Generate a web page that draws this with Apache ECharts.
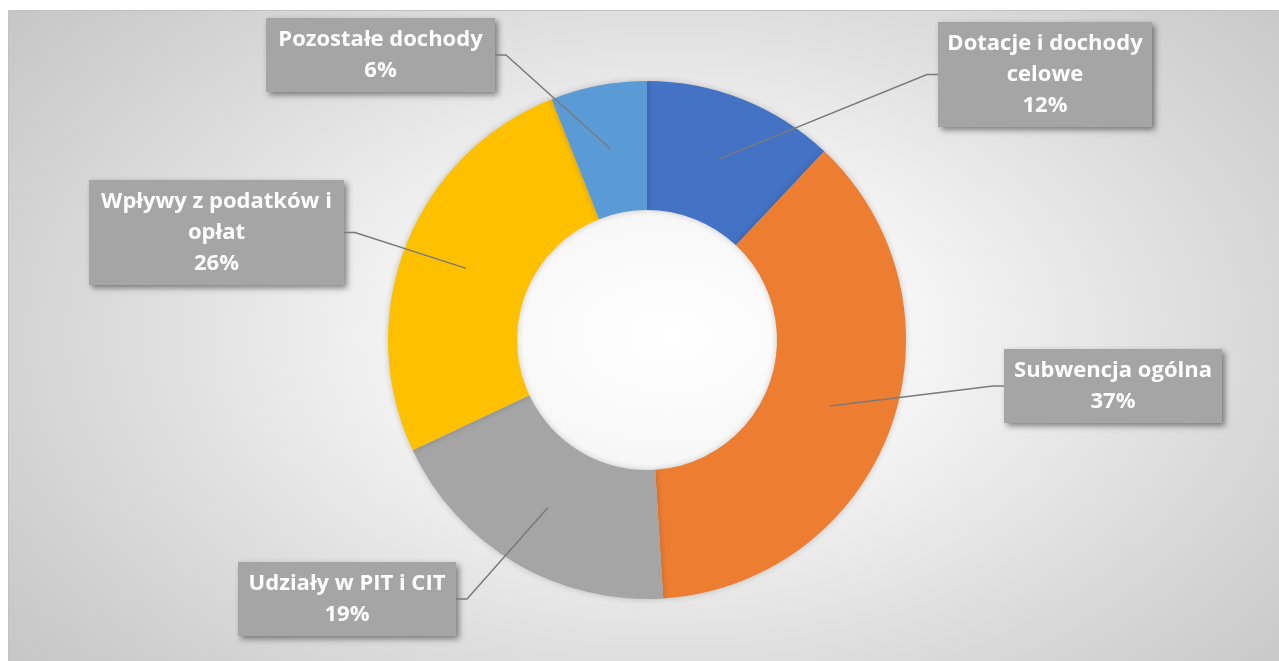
<!DOCTYPE html>
<html lang="pl">
<head>
<meta charset="UTF-8">
<title>Struktura dochodów</title>
<script src="https://cdn.jsdelivr.net/npm/echarts@6/dist/echarts.min.js"></script>
<style>
  html, body { margin: 0; padding: 0; width: 100%; height: 100%; background: #fff; overflow: hidden; }
  #frame {
    position: absolute; left: 8px; top: 10px; right: -2px; bottom: -2px;
    border: 1px solid #c2c2c2;
    background: radial-gradient(ellipse 70% 86% at 52% 50%, #ffffff 0%, #f5f5f5 28%, #d9d9d9 66%, #c2c2c2 100%);
  }
  #main { position: absolute; left: 0; top: 0; width: 1279px; height: 661px; }
</style>
</head>
<body>
<div id="frame"></div>
<div id="main"></div>
<script type="text/javascript">
    // dane
    var categories = ['Dotacje i dochody celowe', 'Subwencja ogólna', 'Udziały w PIT i CIT', 'Wpływy z podatków i opłat', 'Pozostałe dochody'];
    var values = [12, 37, 19, 26, 6];
    // tekst w ramkach (łamanie wierszy jak w oryginale)
    var labelText = ['Dotacje i dochody\ncelowe', 'Subwencja ogólna', 'Udziały w PIT i CIT', 'Wpływy z podatków i\nopłat', 'Pozostałe dochody'];
    var colors = ['#4472c4', '#ed7d31', '#a5a5a5', '#ffc000', '#5b9bd5'];

    // położenie ramek z etykietami (lewy górny róg, szerokość)
    var boxes = [
        {x: 938, y: 22, w: 214},
        {x: 1004, y: 349, w: 218},
        {x: 238, y: 562, w: 218},
        {x: 89, y: 180, w: 255},
        {x: 266, y: 18, w: 229}
    ];

    var cx = 647, cy = 340, rIn = 130, rOut = 259;
    var boxH = [];

    var myChart = echarts.init(document.getElementById('main'));

    var option = {
        animation: false,
        color: colors,
        series: [{
            type: 'pie',
            center: [cx, cy],
            radius: [rIn, rOut],
            startAngle: 90,
            clockwise: true,
            silent: true,
            itemStyle: {
                shadowBlur: 6,
                shadowColor: 'rgba(0,0,0,0.2)'
            },
            label: {
                show: true,
                position: 'outside',
                formatter: function (p) {
                    return labelText[p.dataIndex] + '\n' + p.value + '%';
                },
                color: '#fff',
                fontFamily: 'Open Sans',
                fontWeight: 'bold',
                fontSize: 22,
                lineHeight: 31,
                align: 'center',
                backgroundColor: '#a5a5a5',
                padding: [6, 0],
                shadowBlur: 6,
                shadowOffsetX: 3,
                shadowOffsetY: 3,
                shadowColor: 'rgba(0,0,0,0.45)'
            },
            labelLine: {show: false},
            labelLayout: function (p) {
                var b = boxes[p.dataIndex];
                boxH[p.dataIndex] = p.labelRect.height;
                return {
                    x: b.x + b.w / 2,
                    y: b.y,
                    align: 'center',
                    verticalAlign: 'top'
                };
            },
            data: categories.map(function (name, i) {
                return {name: name, value: values[i], label: {width: boxes[i].w}};
            })
        }]
    };

    myChart.setOption(option);

    // linie odniesienia: od środka pierścienia (wg układu wycinków z ECharts) do ramki
    var pieData = myChart.getModel().getSeriesByIndex(0).getData();
    var guides = [];
    pieData.each(function (i) {
        var l = pieData.getItemLayout(i);
        var mid = (l.startAngle + l.endAngle) / 2;
        var rm = (l.r0 + l.r) / 2;
        var start = [l.cx + rm * Math.cos(mid), l.cy + rm * Math.sin(mid)];
        var b = boxes[i];
        var ey = b.y + (boxH[i] || 74) / 2;
        var left = b.x + b.w / 2 < l.cx;
        var ex = left ? b.x + b.w : b.x;
        var mx = left ? ex + 11 : ex - 11;
        guides.push({
            type: 'polyline',
            silent: true,
            z: 10,
            shape: {points: [start, [mx, ey], [ex, ey]]},
            style: {stroke: '#7a7a7a', lineWidth: 1.5, fill: null}
        });
    });
    myChart.setOption({graphic: guides});
</script>
</body>
</html>
